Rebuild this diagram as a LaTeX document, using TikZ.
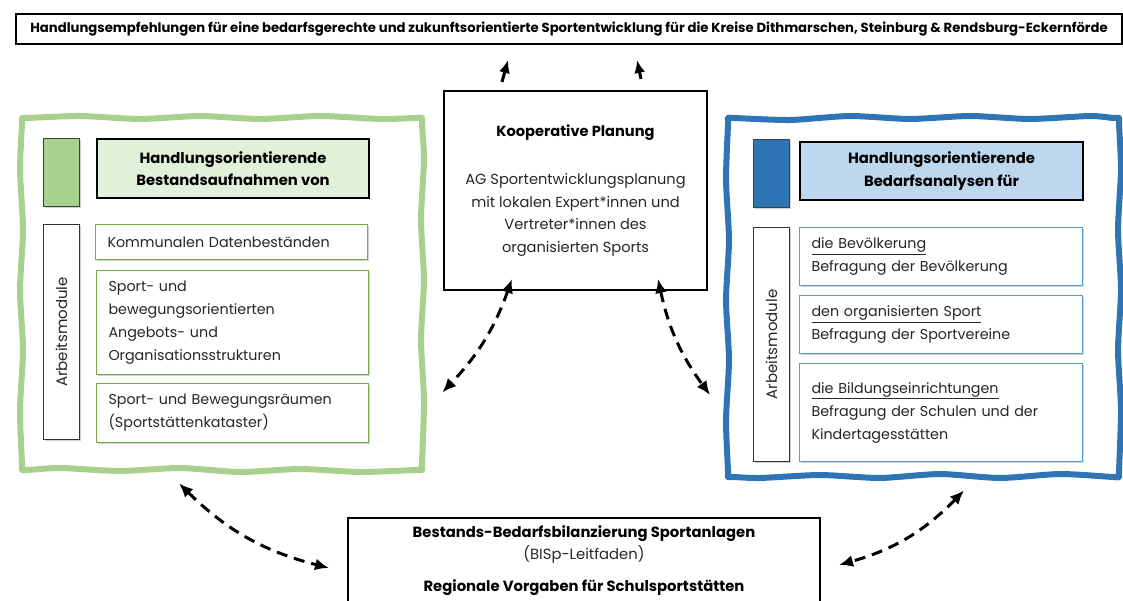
\documentclass[tikz,border=0pt]{standalone}
\usepackage{fontspec}
\usepackage{graphicx}
\setmainfont{Poppins}
\usetikzlibrary{arrows.meta,calc,shadows,positioning}

\definecolor{frgreen}{HTML}{A9D18E}
\definecolor{hdgreen}{HTML}{E2F0D9}
\definecolor{mdgreen}{HTML}{70AD47}
\definecolor{frblue}{HTML}{2E75B6}
\definecolor{hdblue}{HTML}{BDD7EE}
\definecolor{mdblue}{HTML}{5B9BD5}
\definecolor{txt}{HTML}{262626}

\newcommand{\modfont}{\fontsize{14.3}{23}\selectfont}
\newcommand{\hdfont}{\fontsize{14.8}{22.5}\selectfont\bfseries}

\tikzset{
  box/.style={draw=black, line width=2pt, anchor=north west, align=center, inner sep=0pt},
  frame/.style={line width=6pt, line join=round},
  shad/.style={drop shadow={shadow xshift=1.5pt, shadow yshift=-1.5pt, opacity=0.3, fill=black!60}},
  square/.style={draw=black!75, line width=1pt, anchor=north west, minimum width=36, minimum height=68, shad},
  headbox/.style={draw=black, line width=2pt, anchor=north west, align=center, font=\hdfont, inner sep=0pt},
  modlabel/.style={draw=black!80, line width=1pt, anchor=north west, minimum width=36, fill=white, inner sep=0pt, font=\fontsize{15}{18}\selectfont, text=txt, shad},
  gmod/.style={draw=mdgreen, line width=1pt, fill=white, anchor=north west, text width=248pt, inner xsep=12pt, inner ysep=0pt, align=left, font=\modfont, text=txt, shad},
  bmod/.style={draw=mdblue, line width=1pt, fill=white, anchor=north west, text width=259pt, inner xsep=12pt, inner ysep=0pt, align=left, font=\modfont, text=txt, shad},
  link/.style={line width=3pt, dash pattern=on 11pt off 7pt, {Latex[length=14pt,width=12pt]}-{Latex[length=14pt,width=12pt]}},
  up/.style={line width=3pt, -{Latex[length=13pt,width=11pt]}}
}

\begin{document}
\begin{tikzpicture}[x=1pt,y=-1pt]
\useasboundingbox (0,0) rectangle (1123,601);
\clip (0,0) rectangle (1123,601);

% goal on top
\node[box, minimum width=1106, minimum height=30, font=\fontsize{13.2}{14}\selectfont\bfseries] (ziel) at (15,13)
  {Handlungsempfehlungen für eine bedarfsgerechte und zukunftsorientierte Sportentwicklung für die Kreise Dithmarschen, Steinburg \& Rendsburg-Eckernförde};

% cooperative planning
\node[box, minimum width=263, minimum height=199, font=\fontsize{14.6}{22.5}\selectfont, text=txt] (plan) at (443,90)
  {\textbf{\color{black}Kooperative Planung}\\[26pt]
   AG Sportentwicklungsplanung\\ mit lokalen Expert*innen und\\ Vertreter*innen des\\ organisierten Sports};

% left frame: stock
\node[anchor=north west, minimum width=400, minimum height=352, inner sep=0pt] (bestand) at (22,118) {};
\draw[frame, frgreen] plot[smooth cycle, tension=0.4] coordinates {
  (22,118) (28,118) (80,116) (140,119) (200,116) (260,119) (320,116) (380,119) (416,118) (422,118)
  (422,124) (424,160) (421,220) (424,280) (421,340) (424,400) (422,464) (422,470)
  (416,470) (360,472) (300,469) (240,472) (180,468) (120,471) (60,468) (28,470) (22,470)
  (22,464) (20,410) (23,350) (20,290) (23,230) (20,170) (22,124)};
\node[square, fill=frgreen] (gsq) at (43,138) {};
\node[headbox, fill=hdgreen, minimum width=272, minimum height=59] (ghead) at (96,138)
  {Handlungsorientierende\\ Bestandsaufnahmen von};
\node[modlabel, minimum height=215] (glabel) at (43,224) {\rotatebox{90}{Arbeitsmodule}};
\node[gmod, minimum height=35] (g1) at (95,224) {Kommunalen Datenbeständen};
\node[gmod, minimum height=104] (g2) at (96,270)
  {Sport- und\\ bewegungsorientierten\\ Angebots- und\\ Organisationsstrukturen};
\node[gmod, minimum height=59] (g3) at (96,383)
  {Sport- und Bewegungsräumen\\ (Sportstättenkataster)};

% right frame: demand
\node[anchor=north west, minimum width=391, minimum height=359, inner sep=0pt] (bedarf) at (728,118) {};
\draw[frame, frblue] plot[smooth cycle, tension=0.4] coordinates {
  (728,118) (734,118) (790,120) (850,116) (910,119) (970,116) (1030,119) (1090,116) (1113,118) (1119,118)
  (1119,124) (1121,170) (1118,230) (1121,290) (1118,350) (1121,410) (1119,471) (1119,477)
  (1113,477) (1060,474) (1000,478) (940,474) (880,478) (820,475) (760,478) (734,477) (728,477)
  (728,471) (726,420) (729,360) (726,300) (729,240) (726,180) (728,124)};
\node[square, fill=frblue] (bsq) at (753,139) {};
\node[headbox, fill=hdblue, minimum width=283, minimum height=58] (bhead) at (799,141)
  {Handlungsorientierende\\ Bedarfsanalysen für};
\node[modlabel, minimum height=234] (blabel) at (753,227) {\rotatebox{90}{Arbeitsmodule}};
\node[bmod, minimum height=58] (b1) at (799,227)
  {\underline{die Bevölkerung}\\ Befragung der Bevölkerung};
\node[bmod, minimum height=58] (b2) at (799,295)
  {\underline{den organisierten Sport}\\ Befragung der Sportvereine};
\node[bmod, minimum height=98] (b3) at (799,363)
  {\underline{die Bildungseinrichtungen}\\ Befragung der Schulen und der\\ Kindertagesstätten\\[20pt]};

% balance at the bottom
\node[box, anchor=north, minimum width=472, inner ysep=8pt, font=\fontsize{14.8}{22}\selectfont, text=txt] (bilanz) at (584,517)
  {\textbf{\color{black}Bestands-Bedarfsbilanzierung Sportanlagen}\\ (BISp-Leitfaden)\\[10pt]
   \textbf{\color{black}Regionale Vorgaben für Schulsportstätten}\\[40pt] \mbox{}};

% arrows
\draw[up] ($(plan.north west)+(59,-8)$) -- ($(ziel.south west)+(493,15)$);
\draw[up] ($(plan.north west)+(198,-11)$) -- ($(ziel.south west)+(622,15)$);
\draw[link] ($(plan.south west)+(69,-12)$) to[bend left=12] ($(bestand.south east)+(20,-78)$);
\draw[link] ($(plan.south west)+(215,-12)$) to[bend right=12] ($(bedarf.north west)+(-18,277)$);
\draw[link] ($(bestand.south west)+(157,13)$) to[bend right=15] ($(bilanz.north west)+(-18,51)$);
\draw[link] ($(bedarf.south west)+(236,13)$) to[bend left=15] ($(bilanz.north east)+(18,48)$);
\end{tikzpicture}
\end{document}
